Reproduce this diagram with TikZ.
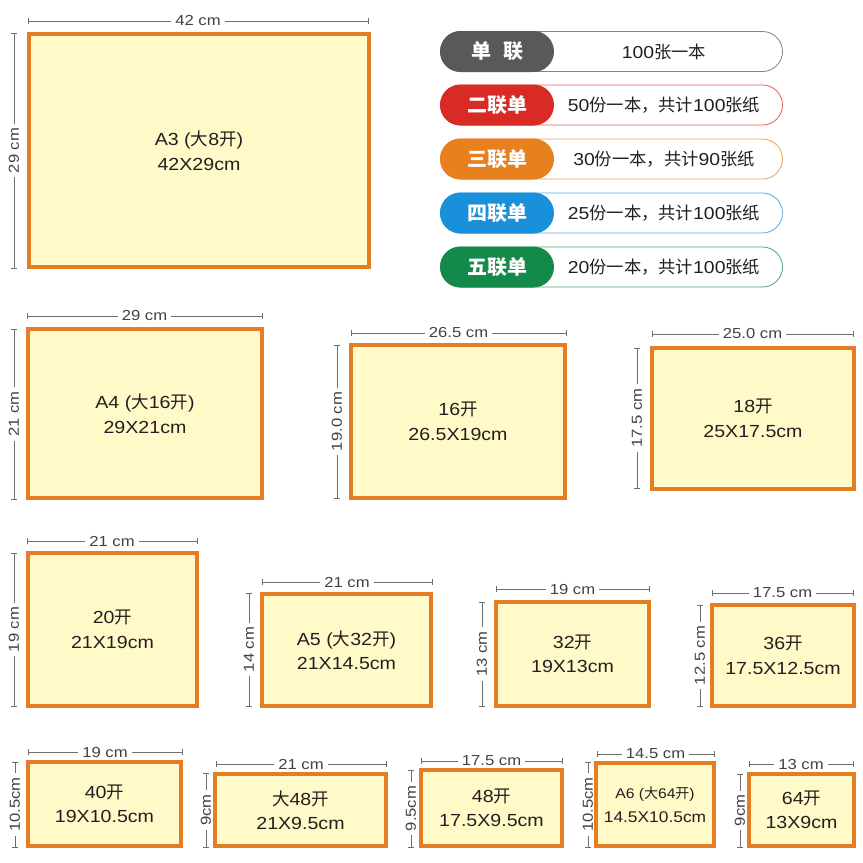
\documentclass[tikz,border=0pt]{standalone}
\usepackage{fontspec}
\setmainfont{Liberation Sans}
\newfontfamily\cjk{Noto Sans CJK SC}
\newfontfamily\stretchA{Liberation Sans}[FakeStretch=1.12]
\newfontfamily\stretchB{Liberation Sans}[FakeStretch=1.15]
\newcommand\zh[1]{{\cjk #1}}
\definecolor{frame}{HTML}{E47D24}
\definecolor{paperfill}{HTML}{FFFAC8}
\definecolor{ink}{HTML}{231F20}
\definecolor{dimgray}{HTML}{6E6E6E}
\definecolor{pgrey}{HTML}{5A5858}
\definecolor{pred}{HTML}{D92B25}
\definecolor{porange}{HTML}{E8801E}
\definecolor{pblue}{HTML}{1A90DA}
\definecolor{pgreen}{HTML}{138A4A}
\tikzset{
  paper/.style={draw=frame, line width=4pt, fill=paperfill, text=ink, align=center, inner sep=0pt,
    font=\stretchA\fontsize{17.5}{24.5}\selectfont},
  dimline/.style={draw=dimgray, line width=0.9pt},
  dimlabel/.style={fill=white, text=ink!85, inner sep=0pt, inner xsep=4pt, inner ysep=1pt,
    font=\stretchB\fontsize{14.5}{16}\selectfont},
  pillbody/.style={fill=white, line width=0.8pt, minimum width=342pt, minimum height=40pt,
    rounded corners=20pt, inner sep=0pt},
  pillhead/.style={minimum width=114pt, minimum height=41pt, rounded corners=20.5pt, inner sep=0pt,
    text=white, font=\cjk\bfseries\fontsize{20}{20}\selectfont},
  pilltext/.style={text=ink, inner sep=0pt, font=\stretchA\fontsize{17.3}{18}\selectfont}
}
\newcommand\paperbox[6]{\node[paper, minimum width={#4-#2-4}, minimum height={#5-#3-4}] (#1) at ({(#2+#4)/2},{(#3+#5)/2}) {#6};}
\newcommand\hdim[5]{%
  \draw[dimline] ({#2},{#4-3}) -- ({#2},{#4+3}) ({#2},{#4}) -- ({#3},{#4}) ({#3},{#4-3}) -- ({#3},{#4+3});
  \node[dimlabel] (#1) at ({(#2+#3)/2},{#4}) {#5};}
\newcommand\vdim[5]{%
  \draw[dimline] ({#2-3},{#3}) -- ({#2+3},{#3}) ({#2},{#3}) -- ({#2},{#4}) ({#2-3},{#4}) -- ({#2+3},{#4});
  \node[dimlabel, rotate=90] (#1) at ({#2},{(#3+#4)/2}) {#5};}
\newcommand\pill[5]{%
  \node[pillbody, draw=#2!75] (pb#1) at (611.5,#3) {};
  \node[pillhead, fill=#2] (ph#1) at (497,#3) {#4};
  \node[pilltext] (pt#1) at (664,#3) {#5};}
\begin{document}
\begin{tikzpicture}[x=1pt,y=-1pt]
\useasboundingbox (0,0) rectangle (863,863);
% legend
\pill{1}{pgrey}{51.5}{单\hspace{0.6em}联}{100\zh{张一本}}
\pill{2}{pred}{105}{二联单}{50\zh{份一本，共计}100\zh{张纸}}
\pill{3}{porange}{159}{三联单}{30\zh{份一本，共计}90\zh{张纸}}
\pill{4}{pblue}{213}{四联单}{25\zh{份一本，共计}100\zh{张纸}}
\pill{5}{pgreen}{267}{五联单}{20\zh{份一本，共计}100\zh{张纸}}
% A3
\paperbox{a3}{27}{32}{371}{269}{A3 (\zh{大}8\zh{开})\\42X29cm}
\hdim{a3w}{28}{368}{21}{42 cm}
\vdim{a3h}{14}{33}{268}{29 cm}
% A4
\paperbox{a4}{26}{327}{264}{500}{A4 (\zh{大}16\zh{开})\\29X21cm}
\hdim{a4w}{27}{262}{316}{29 cm}
\vdim{a4h}{14}{329}{499}{21 cm}
% 16
\paperbox{k16}{349}{343}{567}{500}{16\zh{开}\\26.5X19cm}
\hdim{k16w}{351}{566}{333}{26.5 cm}
\vdim{k16h}{337}{345}{498}{19.0 cm}
% 18
\paperbox{k18}{650}{346}{856}{491}{18\zh{开}\\25X17.5cm}
\hdim{k18w}{652}{853}{334}{25.0 cm}
\vdim{k18h}{637}{348}{488}{17.5 cm}
% 20
\paperbox{k20}{26}{551}{199}{708}{20\zh{开}\\21X19cm}
\hdim{k20w}{27}{197}{541}{21 cm}
\vdim{k20h}{14}{553}{706}{19 cm}
% A5
\paperbox{a5}{260}{592}{433}{708}{A5 (\zh{大}32\zh{开})\\21X14.5cm}
\hdim{a5w}{262}{432}{582}{21 cm}
\vdim{a5h}{249}{593}{706}{14 cm}
% 32
\paperbox{k32}{494}{600}{651}{708}{32\zh{开}\\19X13cm}
\hdim{k32w}{496}{649}{589}{19 cm}
\vdim{k32h}{482}{602}{706}{13 cm}
% 36
\paperbox{k36}{710}{603}{856}{708}{36\zh{开}\\17.5X12.5cm}
\hdim{k36w}{712}{853}{593}{17.5 cm}
\vdim{k36h}{700}{605}{706}{12.5 cm}
% 40
\paperbox{k40}{26}{760}{183}{848}{40\zh{开}\\19X10.5cm}
\hdim{k40w}{28}{182}{752}{19 cm}
\vdim{k40h}{15}{762}{847}{10.5cm}
% big 48
\paperbox{b48}{213}{772}{388}{848}{\zh{大}48\zh{开}\\21X9.5cm}
\hdim{b48w}{216}{386}{764}{21 cm}
\vdim{b48h}{206}{773}{847}{9cm}
% 48
\paperbox{k48}{419}{768}{564}{848}{48\zh{开}\\17.5X9.5cm}
\hdim{k48w}{421}{562}{761}{17.5 cm}
\vdim{k48h}{411}{770}{847}{9.5cm}
% A6
\paperbox{a6}{594}{761}{716}{848}{{\fontsize{14}{22}\selectfont A6 (\zh{大}64\zh{开})}\\{\fontsize{15.5}{22}\selectfont 14.5X10.5cm}}
\hdim{a6w}{597}{714}{754}{14.5 cm}
\vdim{a6h}{588}{762}{847}{10.5cm}
% 64
\paperbox{k64}{747}{772}{856}{848}{64\zh{开}\\13X9cm}
\hdim{k64w}{749}{853}{764}{13 cm}
\vdim{k64h}{740}{774}{847}{9cm}
\end{tikzpicture}
\end{document}
